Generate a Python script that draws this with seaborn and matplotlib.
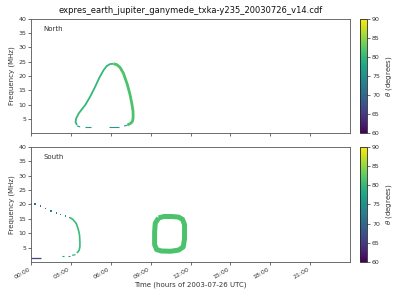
import numpy as np
import matplotlib
matplotlib.use("Agg")
import matplotlib.pyplot as plt
import seaborn as sns
import pandas as pd

sns.set_style("ticks")
plt.rcParams['font.family'] = ['DejaVu Sans']

title = "expres_earth_jupiter_ganymede_txka-y235_20030726_v14.cdf"
xticks = [0, 3, 6, 9, 12, 15, 18, 21]
xticklabels = ["00:00", "03:00", "06:00", "09:00", "12:00", "15:00", "18:00", "21:00"]
yticks = [5, 10, 15, 20, 25, 30, 35, 40]
cticks = [60, 65, 70, 75, 80, 85, 90]

# North hemisphere emission arcs: (time hours, freq MHz, theta deg)
north_left_t = [3.45, 3.35, 3.4, 3.6, 3.85, 4.1, 4.45, 4.8, 5.15, 5.45, 5.7, 5.95, 6.2]
north_left_f = [2.9, 3.9, 5.2, 7.0, 8.5, 10.0, 12.8, 16.0, 19.5, 22.0, 23.5, 24.2, 24.3]
north_left_th = 80.0
north_right_t = [6.2, 6.45, 6.7, 6.95, 7.25, 7.45, 7.6, 7.68, 7.68, 7.62, 7.45, 7.25]
north_right_f = [24.3, 24.0, 23.0, 21.0, 17.0, 13.5, 10.0, 7.5, 5.2, 4.0, 3.3, 2.9]
north_right_th = 81.5
north_bottom_t = [[3.45, 3.7], [4.05, 4.5], [5.85, 6.6], [7.0, 7.25]]
north_bottom_f = [[2.6, 2.2], [2.1, 2.1], [2.1, 2.1], [2.5, 2.8]]
north_bottom_th = 76.5

# South hemisphere
south_dot_t = [0.0, 0.3, 0.7, 1.1, 1.5, 1.9, 2.2, 2.6, 2.9]
south_dot_f = [20.4, 20.1, 19.5, 18.6, 17.7, 17.0, 16.6, 16.0, 15.5]
south_dot_th = [71, 71.5, 72, 72.5, 73, 73.5, 74, 75, 76]
south_arc_t = [2.9, 3.15, 3.4, 3.55, 3.65, 3.68, 3.68, 3.62, 3.45]
south_arc_f = [15.5, 14.8, 13.4, 11.5, 9.4, 7.0, 5.3, 4.0, 3.1]
south_arc_th = 80.5
south_bottom_t = [[2.3, 2.45], [2.75, 2.95], [3.1, 3.35]]
south_bottom_f = [[1.9, 1.9], [2.0, 2.0], [2.3, 2.5]]
south_bottom_th = 76.5
south_low_t = [0.0, 0.73]
south_low_f = [1.3, 1.3]
south_low_th = 66

ring_t = [9.6, 10.0, 10.6, 11.1, 11.4, 11.55, 11.55, 11.45, 11.1, 10.5, 9.8, 9.45, 9.3, 9.3, 9.35, 9.6]
ring_f = [15.3, 15.8, 15.8, 15.6, 14.8, 13.0, 8.0, 5.2, 4.1, 3.7, 3.8, 4.3, 6.0, 10.5, 13.5, 15.3]
ring_th = 81.5

cmap = matplotlib.colormaps["viridis"]
norm = matplotlib.colors.Normalize(60, 90)

fig = plt.figure(figsize=(4, 3), dpi=100)
ax1 = fig.add_axes([0.0775, 0.556, 0.7975, 0.381])
ax2 = fig.add_axes([0.0775, 0.127, 0.7975, 0.383])
cax1 = fig.add_axes([0.9, 0.556, 0.018, 0.381])
cax2 = fig.add_axes([0.9, 0.127, 0.018, 0.383])

def line(ax, t, f, th, lw, ls="-"):
    df = pd.DataFrame({"t": t, "f": f})
    sns.lineplot(data=df, x="t", y="f", ax=ax, sort=False, estimator=None,
                 color=cmap(norm(th)), lw=lw, ls=ls, solid_capstyle="butt")

line(ax1, north_left_t, north_left_f, north_left_th, 1.3)
line(ax1, north_right_t, north_right_f, north_right_th, 2.0)
for t, f in zip(north_bottom_t, north_bottom_f):
    line(ax1, t, f, north_bottom_th, 0.8)

sns.scatterplot(x=south_dot_t, y=south_dot_f, hue=south_dot_th, palette="viridis",
                hue_norm=(60, 90), ax=ax2, s=1.0, marker="s", linewidth=0, legend=False)
line(ax2, south_arc_t, south_arc_f, south_arc_th, 1.2)
for t, f in zip(south_bottom_t, south_bottom_f):
    line(ax2, t, f, south_bottom_th, 0.8)
line(ax2, south_low_t, south_low_f, south_low_th, 0.9)
line(ax2, ring_t, ring_f, ring_th, 3.6)

tc = "#333333"
for ax, name in [(ax1, "North"), (ax2, "South")]:
    ax.set_xlim(0, 24)
    ax.set_ylim(0, 40)
    ax.set_xticks(xticks)
    ax.set_yticks(yticks)
    ax.set_ylabel("Frequency (MHz)", fontsize=5, color=tc, labelpad=2)
    ax.set_xlabel("")
    ax.tick_params(labelsize=4.5, length=2, width=0.5, pad=1.5, colors=tc)
    for s in ax.spines.values():
        s.set_linewidth(0.6)
        s.set_color("#555555")
        s.set_visible(True)
    ax.text(0.04, 0.91, name, transform=ax.transAxes, fontsize=5, color=tc,
            va="center", ha="left")

ax1.set_xticklabels([])
ax2.set_xticklabels(xticklabels, rotation=30, ha="right")
ax2.set_xlabel("Time (hours of 2003-07-26 UTC)", fontsize=5, color=tc, labelpad=1)
ax1.set_title(title, fontsize=6, color="#111111", pad=4)

for cax in (cax1, cax2):
    cb = fig.colorbar(matplotlib.cm.ScalarMappable(norm=norm, cmap=cmap), cax=cax)
    cb.set_ticks(cticks)
    cb.ax.tick_params(labelsize=4.5, length=2, width=0.5, pad=1.5, colors=tc)
    cb.set_label(r"$\theta$ (degrees)", fontsize=5, color=tc, labelpad=3)
    cb.outline.set_linewidth(0.6)

fig.savefig("out.png", dpi=100)
